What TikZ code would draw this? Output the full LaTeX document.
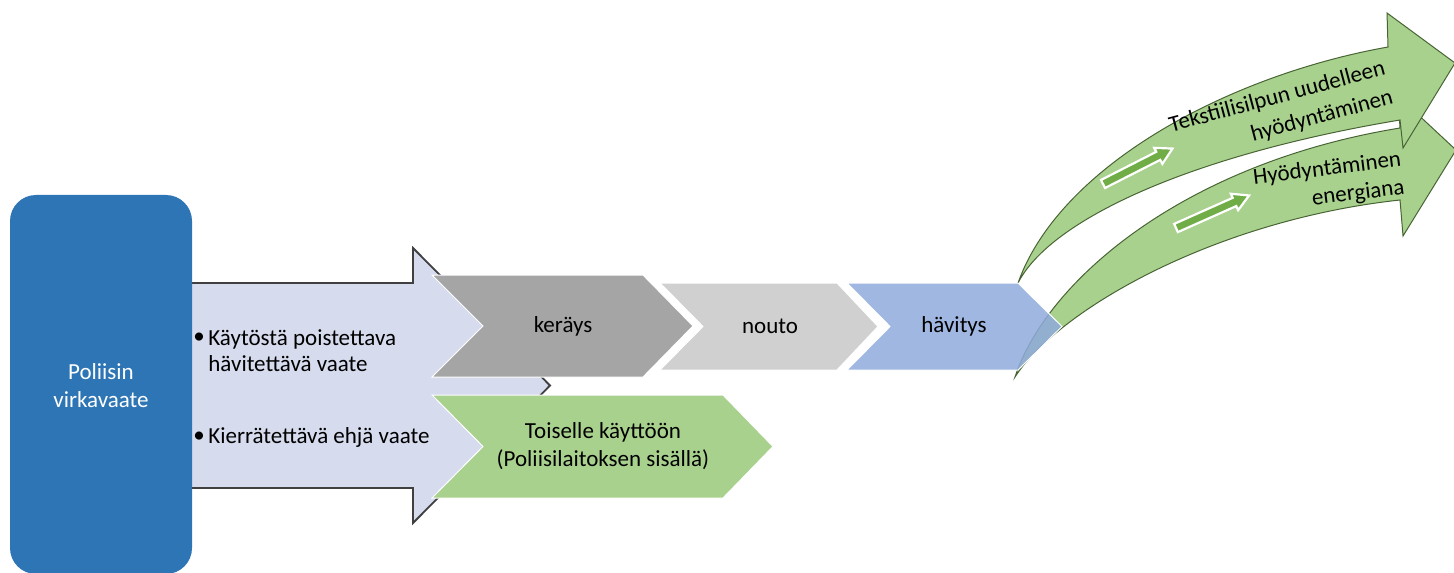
\documentclass[tikz,border=0pt]{standalone}
\usepackage{fontspec}
\setmainfont{Carlito}
\definecolor{polblue}{RGB}{46,117,182}
\definecolor{arrowfill}{RGB}{214,219,237}
\definecolor{arrowline}{RGB}{64,64,64}
\definecolor{kergray}{RGB}{165,165,165}
\definecolor{noutogray}{RGB}{208,208,208}
\definecolor{havblue}{RGB}{143,170,220}
\definecolor{lgreen}{RGB}{169,209,142}
\definecolor{dgreen}{RGB}{112,173,71}
\definecolor{gline}{RGB}{72,100,52}
\begin{document}
\begin{tikzpicture}[x=0.5pt,y=-0.5pt,
  txt/.style={font=\fontsize{11.5}{14}\selectfont, inner sep=0pt, text=black},
  chev/.style={draw=white, line width=0.5pt, line join=miter},
  curved/.style={fill=lgreen, draw=gline, line width=0.5pt, line join=miter},
  mini/.style={fill=dgreen, draw=white, line width=1.1pt, line join=miter}]
\path[use as bounding box] (0,0) rectangle (1454,572);
\clip (0,0) rectangle (1454,572);

% big block arrow
\draw[fill=arrowfill, draw=arrowline, line width=0.9pt, line join=miter]
  (185,283) -- (413,283) -- (413,248) -- (550,385.5) -- (413,523) -- (413,488) -- (185,488);

% blue box
\fill[polblue, rounded corners=13pt] (10,195) rectangle (192,574);
\node[txt, text=white, align=center] (pol) at (101,386) {Poliisin\\virkavaate};

% chevrons
\draw[chev, fill=kergray] (432,275) -- (643,275) -- (693,326) -- (643,377) -- (432,377) -- (483,326) -- cycle;
\draw[chev, fill=lgreen] (432,395) -- (723,395) -- (773,446.5) -- (723,498) -- (432,498) -- (483,446.5) -- cycle;
\draw[chev, fill=noutogray] (660,283) -- (837,283) -- (878,326.5) -- (837,370) -- (660,370) -- (703,326.5) -- cycle;

% curved arrow (lower)
\path[curved] (1015,377) .. controls (1058,310) and (1215,220) .. (1400,200)
  -- (1403,236) -- (1456,150) -- (1398,96) -- (1400,128)
  .. controls (1185,163) and (1047,280) .. (1015,377) -- cycle;
% curved arrow (upper)
\path[curved] (1018,283) .. controls (1060,165) and (1230,75) .. (1388,47)
  -- (1387,13) -- (1455,63) -- (1403,148) -- (1400,120)
  .. controls (1190,155) and (1050,220) .. (1018,283) -- cycle;

% small arrows
\begin{scope}[shift={(1103,184)}, rotate=27]
  \path[mini] (0,-4.5) -- (62,-4.5) -- (62,-9) -- (78,0) -- (62,9) -- (62,4.5) -- (0,4.5) -- cycle;
\end{scope}
\begin{scope}[shift={(1176,228)}, rotate=24]
  \path[mini] (0,-4.5) -- (64,-4.5) -- (64,-9) -- (80,0) -- (64,9) -- (64,4.5) -- (0,4.5) -- cycle;
\end{scope}

% havitys on top, slightly transparent
\draw[chev, fill=havblue, fill opacity=0.85] (847,283) -- (1018,283) -- (1062,326.5) -- (1018,370) -- (847,370) -- (890,326.5) -- cycle;

% labels
\node[txt] (ker) at (563,326) {keräys};
\node[txt] (nou) at (770,326) {nouto};
\node[txt] (hav) at (954,326) {hävitys};
\node[txt, align=center] (toi) at (603,446) {Toiselle käyttöön\\(Poliisilaitoksen sisällä)};

\node[txt] (b1) at (199,338) {\textbullet};
\node[txt, anchor=west, align=left, font=\fontsize{11.5}{13}\selectfont] (t1) at (208,351) {Käytöstä poistettava\\hävitettävä vaate};
\node[txt] (b2) at (199,437) {\textbullet};
\node[txt, anchor=west] (t2) at (208,437) {Kierrätettävä ehjä vaate};

\node[txt, rotate=15, anchor=east, align=right, font=\fontsize{11.5}{15}\selectfont] (tekst) at (1389,83) {Tekstiilisilpun uudelleen\\hyödyntäminen};
\node[txt, rotate=7, anchor=east, align=right] (energ) at (1403,174) {Hyödyntäminen\\energiana};
\end{tikzpicture}
\end{document}
